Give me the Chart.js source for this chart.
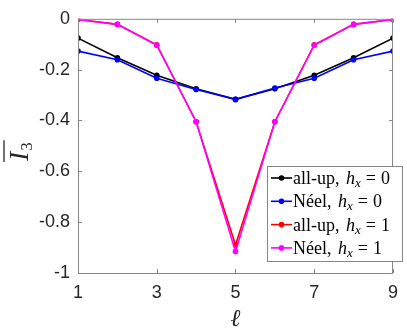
<!DOCTYPE html>
<html>
<head>
<meta charset="utf-8">
<script src="https://cdn.jsdelivr.net/npm/chart.js@4"></script>
<style>
  html, body { margin: 0; padding: 0; background: #fff; }
  #wrap { width: 407px; height: 332px; position: relative; }
</style>
</head>
<body>
<div id="wrap"><canvas id="plot" width="407" height="332"></canvas></div>
<script>
// data
let ell = [1, 2, 3, 4, 5, 6, 7, 8, 9];
let allUp0 = [-0.076, -0.153, -0.222, -0.275, -0.317, -0.275, -0.222, -0.153, -0.076];
let neel0  = [-0.127, -0.161, -0.234, -0.278, -0.317, -0.272, -0.234, -0.161, -0.127];
let allUp1 = [-0.003, -0.022, -0.102, -0.405, -0.890, -0.405, -0.102, -0.022, -0.003];
let neel1  = [-0.003, -0.022, -0.104, -0.405, -0.915, -0.405, -0.104, -0.022, -0.003];
let xTicks = [1, 3, 5, 7, 9];
let yTicks = [0, -0.2, -0.4, -0.6, -0.8, -1];

let names = ['all-up, ', 'Néel, ', 'all-up, ', 'Néel, '];
let hVals = ['0', '0', '1', '1'];
let colors = ['#000000', '#0000ff', '#ff0000', '#ff00ff'];
let series = [allUp0, neel0, allUp1, neel1];

function pts(arr) {
  return arr.map((v, i) => ({ x: ell[i], y: v }));
}

let datasets = series.map((s, k) => ({
  label: names[k] + 'h_x = ' + hVals[k],
  data: pts(s),
  borderColor: colors[k],
  backgroundColor: colors[k],
  borderWidth: 1.6,
  pointRadius: 2.8,
  pointBorderWidth: 0,
  order: 4 - k   // later series on top, like matlab
}));

const axisGrey = '#868686';
const tickFont = { family: 'Liberation Sans, Arial, sans-serif', size: 18 };

// box, inward ticks, axis titles and legend
const decor = {
  id: 'decor',
  afterDraw(chart) {
    const ctx = chart.ctx;
    const a = chart.chartArea;
    const xs = chart.scales.x, ys = chart.scales.y;
    ctx.save();
    ctx.strokeStyle = axisGrey;
    ctx.lineWidth = 1;
    ctx.beginPath();
    ctx.rect(a.left + 0.5, a.top + 0.5, a.right - a.left - 1, a.bottom - a.top);
    ctx.stroke();
    ctx.beginPath();
    xTicks.forEach(t => {
      let px = Math.round(xs.getPixelForValue(t)) + 0.5;
      ctx.moveTo(px, a.bottom); ctx.lineTo(px, a.bottom - 4);
      ctx.moveTo(px, a.top); ctx.lineTo(px, a.top + 4);
    });
    yTicks.forEach(t => {
      let py = Math.round(ys.getPixelForValue(t)) + 0.5;
      ctx.moveTo(a.left, py); ctx.lineTo(a.left + 4, py);
      ctx.moveTo(a.right, py); ctx.lineTo(a.right - 4, py);
    });
    ctx.stroke();

    // x label: script l
    ctx.fillStyle = '#262626';
    ctx.font = 'italic 24px "DejaVu Serif", serif';
    ctx.textAlign = 'center';
    ctx.textBaseline = 'alphabetic';
    ctx.fillText('ℓ', (a.left + a.right) / 2, 326);

    // y label: overline I_3, rotated
    ctx.save();
    ctx.translate(28, 148);
    ctx.rotate(-Math.PI / 2);
    ctx.textAlign = 'left';
    ctx.font = 'italic 28px "Liberation Serif", serif';
    let wI = ctx.measureText('I').width;
    ctx.fillText('I', -13, 0);
    ctx.font = '17px "Liberation Serif", serif';
    ctx.fillText('3', -13 + wI + 1, 4);
    let w3 = ctx.measureText('3').width;
    ctx.strokeStyle = '#262626';
    ctx.lineWidth = 1.3;
    ctx.beginPath();
    ctx.moveTo(-14, -24);
    ctx.lineTo(-13 + wI + w3 + 3, -24);
    ctx.stroke();
    ctx.restore();

    // legend
    const lx = 267, ly = 166, lw = 135, lh = 95;
    ctx.fillStyle = '#ffffff';
    ctx.fillRect(lx, ly, lw, lh);
    ctx.strokeStyle = axisGrey;
    ctx.lineWidth = 1;
    ctx.strokeRect(lx + 0.5, ly + 0.5, lw, lh);
    for (let k = 0; k < 4; k++) {
      let y = ly + 12 + k * 23.3;
      ctx.strokeStyle = colors[k];
      ctx.lineWidth = 1.6;
      ctx.beginPath();
      ctx.moveTo(lx + 4, y); ctx.lineTo(lx + 25, y);
      ctx.stroke();
      ctx.fillStyle = colors[k];
      ctx.beginPath();
      ctx.arc(lx + 14.5, y, 2.8, 0, Math.PI * 2);
      ctx.fill();
      ctx.fillStyle = '#000';
      ctx.textAlign = 'left';
      ctx.textBaseline = 'alphabetic';
      let x = lx + 26;
      let base = y + 6;
      ctx.font = '18px "Liberation Serif", serif';
      ctx.fillText(names[k], x, base);
      x += ctx.measureText(names[k]).width + 2;
      ctx.font = 'italic 18px "Liberation Serif", serif';
      ctx.fillText('h', x, base);
      x += ctx.measureText('h').width;
      ctx.font = 'italic 13px "Liberation Serif", serif';
      ctx.fillText('x', x, base + 3);
      x += ctx.measureText('x').width + 5;
      ctx.font = '18px "Liberation Serif", serif';
      ctx.fillText('=', x, base);
      x += ctx.measureText('=').width + 5;
      ctx.fillText(hVals[k], x, base);
    }
    ctx.restore();
  }
};

new Chart(document.getElementById('plot'), {
  type: 'line',
  data: { datasets: datasets },
  options: {
    responsive: false,
    animation: false,
    layout: { padding: 0 },
    plugins: { legend: { display: false }, tooltip: { enabled: false } },
    scales: {
      x: {
        type: 'linear',
        min: 1, max: 9,
        grid: { display: false, drawTicks: false },
        border: { display: false },
        afterBuildTicks: s => { s.ticks = xTicks.map(v => ({ value: v })); },
        afterFit: s => { s.height = 59; },
        ticks: { color: '#262626', font: tickFont, padding: 9, maxRotation: 0 }
      },
      x2: {
        type: 'linear', position: 'top',
        min: 1, max: 9,
        grid: { display: false, drawTicks: false },
        border: { display: false },
        ticks: { display: false },
        afterFit: s => { s.height = 11; }
      },
      y: {
        min: -1, max: 0,
        grid: { display: false, drawTicks: false },
        border: { display: false },
        afterBuildTicks: s => { s.ticks = yTicks.map(v => ({ value: v })); },
        afterFit: s => { s.width = 78; },
        ticks: {
          color: '#262626', font: tickFont, padding: 8,
          callback: v => String(Math.round(v * 10) / 10)
        }
      },
      y2: {
        position: 'right',
        min: -1, max: 0,
        grid: { display: false, drawTicks: false },
        border: { display: false },
        ticks: { display: false },
        afterFit: s => { s.width = 11; }
      }
    }
  },
  plugins: [decor]
});
</script>
</body>
</html>
